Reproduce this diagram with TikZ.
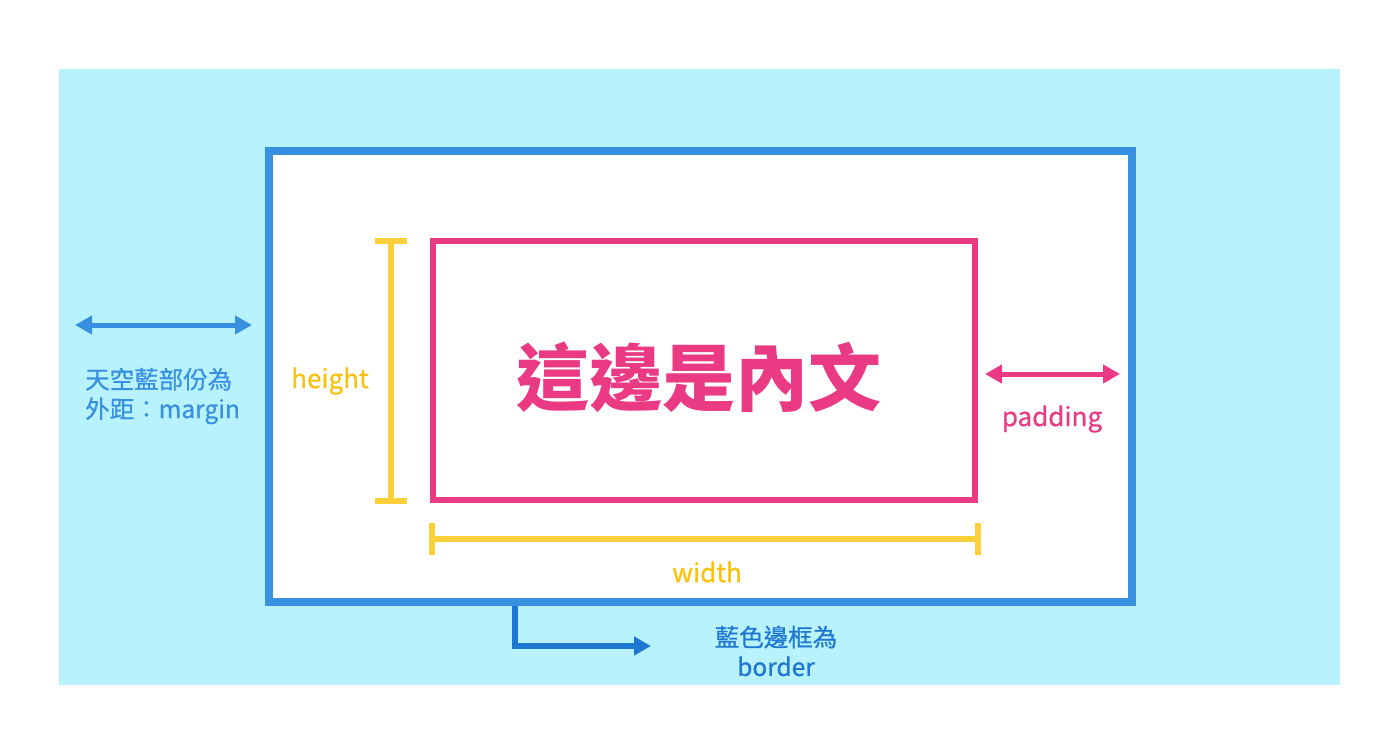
\documentclass[tikz,border=0pt]{standalone}
\usepackage{fontspec}
\setmainfont{Noto Sans CJK TC}
\newfontfamily\lblfont[FakeBold=0.6]{Noto Sans CJK TC}
\usetikzlibrary{arrows.meta}
\definecolor{sky}{HTML}{B8F2FD}
\definecolor{bblue}{HTML}{3890E0}
\definecolor{dblue}{HTML}{1E78D2}
\definecolor{pinkc}{HTML}{EA3A84}
\definecolor{yel}{HTML}{FCD03A}
\definecolor{yeltxt}{HTML}{FAC20C}
\tikzset{
  lbl/.style={font=\lblfont\fontsize{26}{30}\selectfont, inner sep=0pt},
  bar/.style={yel, line width=6pt},
  dblarrow/.style={line width=5pt, {Triangle[length=17pt,width=18pt]}-{Triangle[length=17pt,width=18pt]}},
}
\begin{document}
\begin{tikzpicture}[x=1pt,y=-1pt]
\useasboundingbox (0,0) rectangle (1400,741);
\fill[white] (0,0) rectangle (1400,741);
\fill[sky] (59,69) rectangle (1340,685);
% border box
\draw[bblue, line width=8pt, fill=white] (269,151) rectangle (1132,602);
\node[inner sep=0pt, minimum width=863pt, minimum height=451pt] (box) at (700.5,376.5) {};
% content box
\draw[pinkc, line width=6pt] (433,241) rectangle (975,500);
\node[inner sep=0pt, minimum width=542pt, minimum height=259pt] (content) at (704,370.5) {};
\node[pinkc, inner sep=0pt, font=\fontsize{73}{80}\selectfont\bfseries] (ctext) at (699,377) {這邊是內文};
% height bar
\coordinate (h1) at (391,241);
\coordinate (h2) at (391,501);
\draw[bar] (h1) -- (h2);
\draw[bar] (375,241) -- (407,241);
\draw[bar] (375,501) -- (407,501);
\node[lbl, yeltxt] (htext) at (330,381) {height};
% width bar
\coordinate (w1) at (432,539);
\coordinate (w2) at (978,539);
\draw[bar] (w1) -- (w2);
\draw[bar] (432,523) -- (432,555);
\draw[bar] (978,523) -- (978,555);
\node[lbl, yeltxt] (wtext) at (707,572) {width};
% margin
\coordinate (m1) at (75,325);
\coordinate (m2) at (252,325);
\draw[bblue, dblarrow] (m1) -- (m2);
\node[lbl, bblue, align=left, anchor=west, font=\lblfont\fontsize{24.5}{29.5}\selectfont] (mtext) at (85,396) {天空藍部份為\\外距：margin};
% padding
\coordinate (p1) at (985,374);
\coordinate (p2) at (1120,374);
\draw[pinkc, dblarrow] (p1) -- (p2);
\node[lbl, pinkc] (ptext) at (1052,419) {padding};
% border arrow
\coordinate (b0) at (515,606);
\coordinate (b1) at (515,646);
\coordinate (b2) at (651,646);
\draw[dblue, line width=6pt, -{Triangle[length=17pt,width=18pt]}] (b0) -- (b1) -- (b2);
\node[lbl, dblue, align=center, font=\lblfont\fontsize{24.5}{29.5}\selectfont] (btext) at (776,651) {藍色邊框為\\border};
\end{tikzpicture}
\end{document}
